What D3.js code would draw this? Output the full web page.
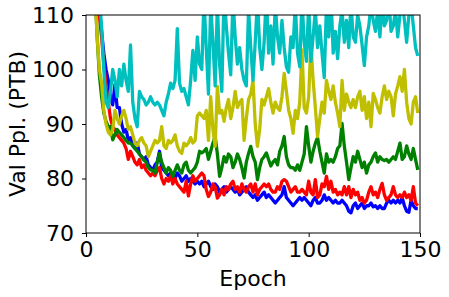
<!DOCTYPE html>
<html>
<head>
<meta charset="utf-8">
<script src="https://cdn.jsdelivr.net/npm/d3@7"></script>
<style>
  body { margin: 0; background: #fff; }
  text { font-family: "DejaVu Sans", sans-serif; }
</style>
</head>
<body>
<div id="chart"></div>
<script>
// validation perplexity per epoch
const blue = [160,140,128,120,115,111,107,103,100,98,
  95,93.5,97.2,93,93,90,88.5,89,87,87.5,
  86,85.5,86.5,84.5,84,83.5,84,82.5,82,81.5,
  82.5,83,85,82,81.5,81,80.5,81,80.5,80,
  81,80.5,79.5,80,80.5,79.5,80,79.5,79,79.5,
  79,79.5,78.5,79,79.5,78.5,78,79,78.5,77.5,
  78,78.5,77.5,78,78.5,78,77.5,78,77,77.5,
  78,78.5,77.5,77,76.5,77,76,76.5,77,77.5,
  76.5,77,76.5,76,75.5,76,76.5,77,78.5,76.5,
  76,75.5,75,75.5,76,76.5,76,76.5,76,75.5,
  75,76,76.5,75.5,75.5,76,77,76,76.5,76,
  75.5,76,75.5,75.5,76,75.5,75,74,73.7,75,
  75.5,74.5,75,75.5,74.5,75,75,75.5,74.8,75,
  74.5,75,74.5,74.5,75.5,76,75.5,76,75.5,76,
  75.5,76.5,75,74,73.8,76,75,74.5,74.5];

const red = [160,140,128,120,114,110,106,101,97,94,
  91,89.5,89,88,87.5,87,86.5,85.5,83.5,85,
  84,83,82.5,83.5,82,82.5,81.5,81,80.5,81,
  80.5,81.5,82,80,79,80,79.5,80.5,79,80,
  79,78.5,78,77.5,79.5,76.8,79,80.5,79.5,80,
  80.5,81,80.5,78,76.7,77.5,79,78.5,76.4,77,
  78,77,78.5,78,79,79.5,78,78.5,77.5,79,
  78,77.5,78.5,79,77.5,79,77,78,78.5,79,
  78.5,79,78,77.5,77.5,78.5,78,79.5,79.8,79.5,
  78.5,77.5,78,78.5,77.5,77.5,78,77.5,77,79.5,
  77.5,77,79.8,76.5,77,79,78.5,80.4,78,79.5,
  77.5,78,77,77.5,77,78.5,77,78.5,76.5,78,
  77,77.5,76,76.5,75.5,76,77.5,78.5,77,77.5,
  76.5,78,79.1,77,76,76.5,77,78.5,77,76.5,
  77,76.5,77.5,76.5,77,76,78.5,75.5,75];

const green = [165,145,128,115,106,99,95,92,90.5,89.5,
  89.5,87.1,88,89,88.5,88,87.5,87,86.5,86.5,
  86,85.5,85,84.5,84,83.4,83,82,81.6,81.5,
  81,83,84.6,83,82,81,82,81.5,80.4,81.5,
  82.5,81.5,81,82.5,83,81.5,81,81.5,82,83,
  85,84.7,85,85.5,83.5,85,86.5,87.7,84.5,80.4,
  82,84,83,84.5,84,82,83,84.5,83.5,82,
  80.1,83,84.6,85.9,84,83,79.8,82,83.5,84,
  84.7,83.5,82.3,83,83.5,82.5,85,86,87.7,84,
  82.5,82,82,81.5,82.5,81.5,83,84.5,89.5,86,
  83,85,86.5,87.5,85,83,81,84.5,83,83.5,
  83,84,85.5,86,90.1,86,83,79.8,82,84,
  83,85,83.5,82,83,81,82.5,83,84,84.7,
  83,84,83.5,83.3,83.5,83,83.5,84,83.5,85,
  86.5,83.5,84,86,84.5,83.5,85.5,83.5,81.6];

const yellow = [165,145,128,115,106,100,97.5,92.5,90,88.5,
  88,89,92.5,91,90,91.5,92.5,91,89,89.5,
  88,86.5,86,87,87.5,86.5,86,84,85,86,
  87,86.5,87,89.5,86,85.5,87,86.5,87,88,
  86,85,84.6,86.5,86,86.5,87.5,86.5,87,91.5,
  92,91.5,91,92.5,87,95,89,85.9,96.9,92,
  92.5,90.5,93,94.5,91,93,96,93,94,94.5,
  87,91,94.5,95.5,98,90,85.9,89,94.5,93.5,
  95,96.5,94,92,94,93,92.5,95,99.3,96,
  92.5,91,88.3,92.5,91,94,103.6,93,92,95,
  104.8,98,93,87.7,91,94,92,98,96,94.5,
  97,94,92,89.5,98,92.5,95.5,94,93,94.5,
  93,95,96,92.5,95,91,94,89.5,95.6,94.5,
  93,92,95,97,94.5,96,95,91.5,95.5,97,
  98.7,96,100,94,91,90,94,95,92];

const cyan = [170,150,135,125,118,113,108,100,94,93,
  96,100,98,95,100,97,101,98,96,104.5,
  94,91,89.5,96,95,94.5,93.5,94,95,94,
  93.5,94,93.5,92.5,91.5,94,95.5,97.5,96.5,98,
  107.5,97.5,96,96.5,95,93.5,98,103.5,98,106,
  101,100,113,104,95.5,112,105,97,112,101,
  96,114,108,103,99,113,106,101,104,100,
  98,97,111,104,98,105,113,104,100,105,
  114,103,108,101,112,106,103,109,104,100.5,
  99.5,106,104,112,103,100.5,113,105,101.5,112,
  101.5,106,111,104,108,103,98.5,112,106,114,
  103,107,102,108,111,105,109,104,112,106,
  105,110,108,104.5,100.7,106,108,112,109,107,
  111,106,112,108,109,113,107,108,111,106,
  110,113,109,105,110,112,108,104,102.5];

const seriesColors = ["#0000ff", "#ff0000", "#008000", "#bfbf00", "#00bfbf"];
const xTicks = [0, 50, 100, 150];
const yTicks = [70, 80, 90, 100, 110];

const margin = {top: 15, right: 29, bottom: 64, left: 86},
    width = 449 - margin.left - margin.right,
    height = 297 - margin.top - margin.bottom;

const svg = d3.select("#chart")
  .append("svg")
    .attr("width", 449)
    .attr("height", 297)
  .append("g")
    .attr("transform", `translate(${margin.left},${margin.top})`);

const x = d3.scaleLinear().domain([0, 150]).range([0, width]);
const y = d3.scaleLinear().domain([70, 110]).range([height, 0]);

svg.append("clipPath").attr("id", "clip")
  .append("rect").attr("width", width).attr("height", height);

const allSeries = [blue, red, green, yellow, cyan];
const line = d3.line()
  .x((d, i) => x(i + 1))
  .y(d => y(d));

svg.append("g").attr("clip-path", "url(#clip)")
  .selectAll("path")
  .data(allSeries)
  .join("path")
    .attr("d", line)
    .attr("fill", "none")
    .attr("stroke", (d, i) => seriesColors[i])
    .attr("stroke-width", 3.3)
    .attr("stroke-linejoin", "round");

const xAxis = svg.append("g")
  .attr("transform", `translate(0,${height})`)
  .call(d3.axisBottom(x).tickValues(xTicks).tickSize(4).tickPadding(4).tickFormat(d3.format("d")));
const yAxis = svg.append("g")
  .call(d3.axisLeft(y).tickValues(yTicks).tickSize(4).tickPadding(8).tickFormat(d3.format("d")));

[xAxis, yAxis].forEach(a => {
  a.select(".domain").remove();
  a.selectAll("line").attr("stroke", "#000").attr("stroke-width", 1);
  a.selectAll("text")
    .attr("fill", "#000")
    .style("font-family", "DejaVu Sans")
    .style("font-size", "22px");
});

// box around the plot
svg.append("rect")
  .attr("width", width).attr("height", height)
  .attr("fill", "none").attr("stroke", "#000").attr("stroke-width", 1);

svg.append("text")
  .attr("x", width / 2)
  .attr("y", height + 53)
  .attr("text-anchor", "middle")
  .style("font-size", "22px")
  .text("Epoch");

svg.append("text")
  .attr("transform", `translate(${-61},${height / 2}) rotate(-90)`)
  .attr("text-anchor", "middle")
  .style("font-size", "22px")
  .text("Val Ppl. (PTB)");
</script>
</body>
</html>
